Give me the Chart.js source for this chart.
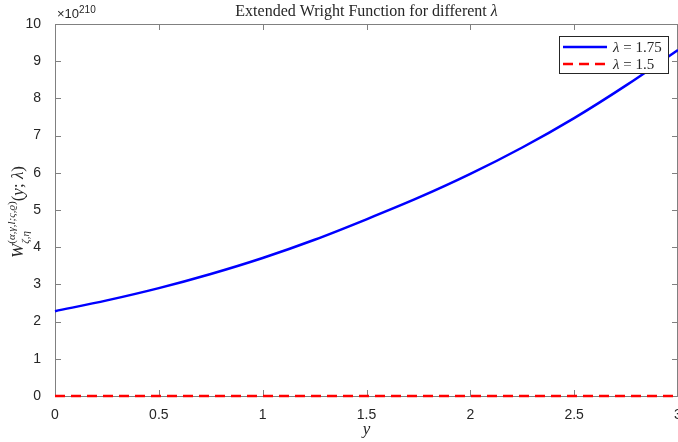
<!DOCTYPE html>
<html>
<head>
<meta charset="utf-8">
<script src="https://cdn.jsdelivr.net/npm/chart.js@4/dist/chart.umd.min.js"></script>
<style>
  html, body { margin: 0; padding: 0; background: #fff; }
  #wrap { width: 678px; height: 442px; }
</style>
</head>
<body>
<div id="wrap"><canvas id="c" width="678" height="442"></canvas></div>
<script>
// values, in units of 1e210
const yPoints = [0, 0.25, 0.5, 0.75, 1, 1.25, 1.5, 1.75, 2, 2.25, 2.5, 2.75, 3];
const lambda175 = [2.28, 2.57, 2.90, 3.28, 3.71, 4.20, 4.75, 5.33, 5.97, 6.68, 7.47, 8.35, 9.30];
const lambda15 = [0, 0, 0, 0, 0, 0, 0, 0, 0, 0, 0, 0, 0];
const xTicks = [0, 0.5, 1, 1.5, 2, 2.5, 3];
const yTicks = [0, 1, 2, 3, 4, 5, 6, 7, 8, 9, 10];

const FRAME = '#808080';
const TXT = '#262626';
const SERIF = '"Liberation Serif", "DejaVu Serif", serif';
const SANS = '"Liberation Sans", Arial, sans-serif';

const toXY = (xs, ys) => xs.map((x, i) => ({ x: x, y: ys[i] }));

// frame and inward ticks, under the lines
const matlabFrame = {
    id: 'matlabFrame',
    beforeDatasetsDraw(chart) {
        const { ctx, chartArea: a, scales } = chart;
        ctx.save();
        ctx.strokeStyle = FRAME;
        ctx.lineWidth = 1;
        ctx.strokeRect(a.left + 0.5, a.top + 0.5, a.right - a.left - 1, a.bottom - a.top);
        ctx.beginPath();
        xTicks.forEach(v => {
            const px = Math.round(scales.x.getPixelForValue(v)) + 0.5;
            ctx.moveTo(px, a.bottom); ctx.lineTo(px, a.bottom - 6);
            ctx.moveTo(px, a.top); ctx.lineTo(px, a.top + 6);
        });
        yTicks.forEach(v => {
            const py = Math.round(scales.y.getPixelForValue(v)) + 0.5;
            ctx.moveTo(a.left, py); ctx.lineTo(a.left + 6, py);
            ctx.moveTo(a.right, py); ctx.lineTo(a.right - 6, py);
        });
        ctx.stroke();
        ctx.restore();
    }
};

// title, y label, exponent and legend
const matlabText = {
    id: 'matlabText',
    afterDraw(chart) {
        const { ctx, chartArea: a } = chart;
        ctx.save();

        // title
        ctx.fillStyle = TXT;
        ctx.textBaseline = 'alphabetic';
        const t1 = 'Extended Wright Function for different ';
        ctx.font = '16px ' + SERIF;
        const w1 = ctx.measureText(t1).width;
        ctx.font = 'italic 16px ' + SERIF;
        const w2 = ctx.measureText('λ').width;
        let tx = (a.left + a.right) / 2 - (w1 + w2) / 2;
        ctx.font = '16px ' + SERIF;
        ctx.fillText(t1, tx, 16);
        ctx.font = 'italic 16px ' + SERIF;
        ctx.fillText('λ', tx + w1, 16);

        // exponent
        ctx.font = '13px ' + SANS;
        ctx.fillText('×10', a.left + 2, 18);
        const ew = ctx.measureText('×10').width;
        ctx.font = '10px ' + SANS;
        ctx.fillText('210', a.left + 2 + ew, 13);

        // y axis label, rotated; pieces are [text, font, dy]
        const big = 17, small = 11;
        const parts = [
            ['W', 'italic ' + big + 'px ' + SERIF, 0],
            ['(', small + 'px ' + SERIF, -8],
            ['α,γ,l;ς,ϱ', 'italic ' + small + 'px ' + SERIF, -8],
            [')', small + 'px ' + SERIF, -8],
            ['(', big + 'px ' + SERIF, 0],
            ['y', 'italic ' + big + 'px ' + SERIF, 0],
            ['; ', big + 'px ' + SERIF, 0],
            ['λ', 'italic ' + big + 'px ' + SERIF, 0],
            [')', big + 'px ' + SERIF, 0]
        ];
        let total = 0;
        parts.forEach(p => { ctx.font = p[1]; total += ctx.measureText(p[0]).width; });
        ctx.save();
        ctx.translate(23, 212);
        ctx.rotate(-Math.PI / 2);
        let x = -total / 2;
        let subX = 0;
        parts.forEach((p, i) => {
            ctx.font = p[1];
            if (i === 1) subX = x;
            ctx.fillText(p[0], x, p[2]);
            x += ctx.measureText(p[0]).width;
        });
        ctx.font = 'italic ' + small + 'px ' + SERIF;
        ctx.fillText('ζ,η', subX, 6);
        ctx.restore();

        // legend
        const lx = 559, ly = 36, lw = 109, lh = 37;
        ctx.fillStyle = '#fff';
        ctx.fillRect(lx, ly, lw, lh);
        ctx.strokeStyle = '#262626';
        ctx.lineWidth = 1;
        ctx.strokeRect(lx + 0.5, ly + 0.5, lw, lh);
        chart.data.datasets.forEach((ds, i) => {
            const yy = ly + 11 + i * 17;
            ctx.strokeStyle = ds.borderColor;
            ctx.lineWidth = 2.5;
            ctx.setLineDash(ds.borderDash || []);
            ctx.beginPath();
            ctx.moveTo(lx + 4, yy); ctx.lineTo(lx + 48, yy);
            ctx.stroke();
            ctx.setLineDash([]);
            ctx.fillStyle = TXT;
            ctx.font = 'italic 15px ' + SERIF;
            ctx.fillText('λ', lx + 54, yy + 5);
            const lw2 = ctx.measureText('λ').width;
            ctx.font = '15px ' + SERIF;
            ctx.fillText(' = ' + ds.label, lx + 54 + lw2, yy + 5);
        });

        ctx.restore();
    }
};

new Chart(document.getElementById('c'), {
    type: 'line',
    data: {
        datasets: [{
            label: '1.75',
            data: toXY(yPoints, lambda175),
            borderColor: '#0000ff',
            borderWidth: 2.5,
            pointRadius: 0,
            cubicInterpolationMode: 'monotone',
            clip: 4,
            fill: false
        }, {
            label: '1.5',
            data: toXY(yPoints, lambda15),
            borderColor: '#ff0000',
            borderWidth: 2.5,
            borderDash: [10, 6],
            pointRadius: 0,
            clip: 4,
            fill: false
        }]
    },
    options: {
        responsive: false,
        animation: false,
        layout: { padding: { top: 24, right: 0, left: 0, bottom: 0 } },
        plugins: {
            legend: { display: false },
            title: { display: false },
            tooltip: { enabled: false }
        },
        scales: {
            x: {
                type: 'linear',
                min: 0,
                max: 3,
                afterBuildTicks: s => { s.ticks = xTicks.map(v => ({ value: v })); },
                afterFit: s => { s.height = 46; s.paddingLeft = 0; s.paddingRight = 0; },
                grid: { display: false },
                border: { display: false },
                ticks: {
                    color: TXT,
                    font: { family: SANS, size: 14 },
                    padding: 3,
                    maxRotation: 0,
                    callback: v => String(v)
                },
                title: {
                    display: true,
                    text: 'y',
                    color: TXT,
                    font: { family: SERIF, size: 17, style: 'italic' },
                    padding: { top: 0, bottom: 2 }
                }
            },
            y: {
                min: 0,
                max: 10,
                afterBuildTicks: s => { s.ticks = yTicks.map(v => ({ value: v })); },
                afterFit: s => { s.width = 55; },
                grid: { display: false },
                border: { display: false },
                ticks: {
                    color: TXT,
                    font: { family: SANS, size: 14 },
                    padding: 6
                }
            }
        }
    },
    plugins: [matlabFrame, matlabText]
});
</script>
</body>
</html>
